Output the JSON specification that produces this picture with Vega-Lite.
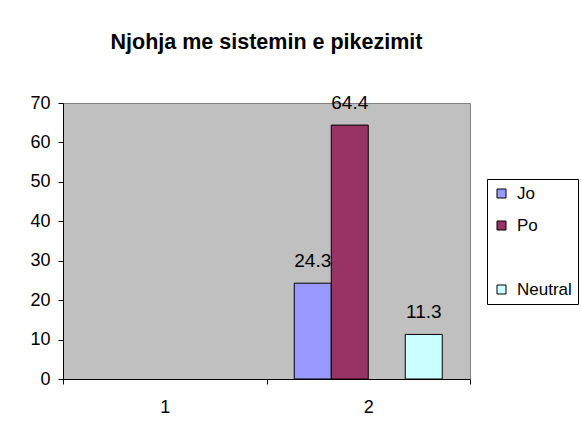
{
  "$schema": "https://vega.github.io/schema/vega-lite/v6.json",
  "autosize": {"type": "none"},
  "width": 407,
  "height": 276,
  "padding": {"left": 63, "top": 103, "right": 111, "bottom": 57},
  "background": "white",
  "title": {
    "text": "Njohja me sistemin e pikezimit",
    "font": "Liberation Sans",
    "fontSize": 21.5,
    "fontWeight": "bold",
    "color": "black",
    "anchor": "middle",
    "offset": 41
  },
  "data": {
    "values": [
      {"cat": "2", "series": "Jo", "value": 24.3},
      {"cat": "2", "series": "Po", "value": 64.4},
      {"cat": "2", "series": "Neutral", "value": 11.3}
    ]
  },
  "encoding": {
    "x": {
      "field": "cat",
      "type": "nominal",
      "scale": {"domain": ["1", "2"], "paddingInner": 0, "paddingOuter": 0},
      "axis": {
        "title": null,
        "labelAngle": 0,
        "tickBand": "extent",
        "tickSize": 5,
        "labelPadding": 14,
        "labelFontSize": 18,
        "labelFont": "Liberation Sans",
        "labelColor": "black",
        "domainColor": "black",
        "tickColor": "black"
      }
    },
    "xOffset": {
      "field": "series",
      "type": "nominal",
      "scale": {"domain": ["Jo", "Po", " ", "Neutral"], "paddingInner": 0, "paddingOuter": 0.75}
    },
    "y": {
      "field": "value",
      "type": "quantitative",
      "scale": {"domain": [0, 70], "nice": false},
      "axis": {
        "title": null,
        "values": [0, 10, 20, 30, 40, 50, 60, 70],
        "grid": false,
        "tickSize": 5,
        "labelPadding": 8,
        "labelFontSize": 18,
        "labelFont": "Liberation Sans",
        "labelColor": "black",
        "domainColor": "black",
        "tickColor": "black"
      }
    }
  },
  "layer": [
    {
      "mark": {"type": "bar", "strokeWidth": 1},
      "encoding": {
        "color": {
          "field": "series",
          "type": "nominal",
          "scale": {
            "domain": ["Jo", "Po", " ", "Neutral"],
            "range": ["#9999FF", "#993366", "transparent", "#CCFFFF"]
          },
          "legend": {
            "title": null,
            "orient": "none",
            "legendX": 424,
            "legendY": 76,
            "symbolType": "square",
            "symbolSize": 81,
            "symbolStrokeWidth": 1,
            "symbolOpacity": 1,
            "labelFontSize": 17,
            "labelFont": "Liberation Sans",
            "labelColor": "black",
            "labelOffset": 7,
            "rowPadding": 14,
            "padding": 6,
            "strokeColor": "black",
            "fillColor": "white"
          }
        },
        "stroke": {
          "field": "series",
          "type": "nominal",
          "scale": {
            "domain": ["Jo", "Po", " ", "Neutral"],
            "range": ["black", "black", "transparent", "black"]
          },
          "legend": {
            "title": null,
            "orient": "none",
            "legendX": 424,
            "legendY": 76,
            "symbolType": "square",
            "symbolSize": 81,
            "symbolStrokeWidth": 1,
            "symbolOpacity": 1,
            "labelFontSize": 17,
            "labelFont": "Liberation Sans",
            "labelColor": "black",
            "labelOffset": 7,
            "rowPadding": 14,
            "padding": 6,
            "strokeColor": "black",
            "fillColor": "white"
          }
        }
      }
    },
    {
      "mark": {
        "type": "text",
        "baseline": "bottom",
        "dy": -12,
        "fontSize": 19,
        "font": "Liberation Sans",
        "color": "black"
      },
      "encoding": {
        "text": {"field": "value", "type": "quantitative", "format": ".1f"}
      }
    }
  ],
  "config": {
    "view": {"fill": "#C0C0C0", "stroke": "#808080", "strokeWidth": 1},
    "font": "Liberation Sans"
  }
}
